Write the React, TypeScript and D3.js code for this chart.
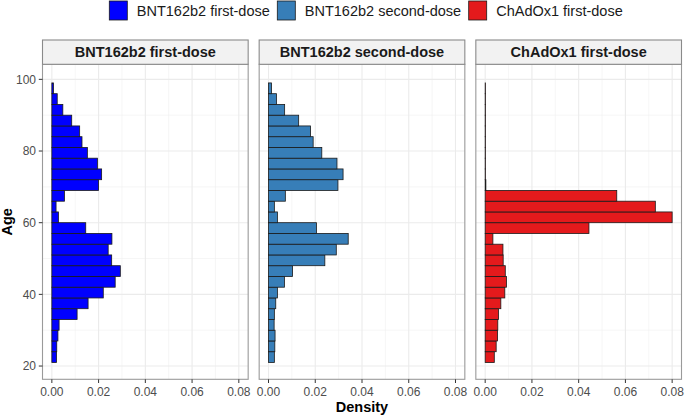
import React, { useEffect, useRef } from 'react';
import * as d3 from 'd3';

// Age bins (lower edge, 3-year width)
const binStarts = [21, 24, 27, 30, 33, 36, 39, 42, 45, 48, 51, 54, 57, 60, 63, 66, 69, 72, 75, 78, 81, 84, 87, 90, 93, 96];
const binWidth = 3;

const bntFirst = [
  0.002, 0.0021, 0.0026, 0.0031, 0.0108, 0.0155, 0.022, 0.0271, 0.0293, 0.0256, 0.0241, 0.0257, 0.0145,
  0.0028, 0.0018, 0.0054, 0.02, 0.0213, 0.0195, 0.0152, 0.0129, 0.0119, 0.0085, 0.0047, 0.0023, 0.0007,
];
const bntSecond = [
  0.0025, 0.0027, 0.0028, 0.0024, 0.0025, 0.0031, 0.0038, 0.0068, 0.0103, 0.0241, 0.029, 0.0341, 0.0205,
  0.0038, 0.0025, 0.0072, 0.0297, 0.0319, 0.0293, 0.0228, 0.0191, 0.018, 0.0129, 0.0069, 0.0034, 0.0013,
];
const chadFirst = [
  0.0039, 0.0047, 0.0053, 0.0054, 0.0057, 0.0067, 0.0084, 0.0091, 0.0086, 0.0077, 0.0076, 0.0033, 0.0444,
  0.08, 0.0728, 0.0563, 0.0003, 0.0001, 0.0001, 0.0001, 0.0001, 0.0001, 0.0001, 0.0001, 0.0001, 0.0001,
];

const groups = ['BNT162b2 first-dose', 'BNT162b2 second-dose', 'ChAdOx1 first-dose'];
const colors = ['#0000FF', '#377EB8', '#E41A1C'];
const seriesValues = [bntFirst, bntSecond, chadFirst];

const xTicks = [0, 0.02, 0.04, 0.06, 0.08];
const xMinor = [0.01, 0.03, 0.05, 0.07];
const yTicks = [20, 40, 60, 80, 100];
const yMinor = [30, 50, 70, 90];

const W = 685;
const H = 415;
const FONT = '"Liberation Sans", Arial, sans-serif';

export default function App() {
  const svgRef = useRef<SVGSVGElement>(null);

  useEffect(() => {
    if (!svgRef.current) return;
    const svg = d3.select(svgRef.current);
    svg.selectAll('*').remove();

    const panelLeft = 42.5;
    const panelRight = 681.5;
    const gap = 11;
    const panelW = (panelRight - panelLeft - 2 * gap) / 3;
    const stripTop = 40;
    const plotTop = 64.3;
    const plotBottom = 379.3;

    const y = d3.scaleLinear().domain([16.3, 104.2]).range([plotBottom, plotTop]);

    groups.forEach((name, gi) => {
      const x0 = panelLeft + gi * (panelW + gap);
      const x = d3.scaleLinear().domain([-0.004, 0.084]).range([x0, x0 + panelW]);
      const g = svg.append('g');

      // panel background
      g.append('rect')
        .attr('x', x0)
        .attr('y', plotTop)
        .attr('width', panelW)
        .attr('height', plotBottom - plotTop)
        .attr('fill', 'white');

      // minor grid
      xMinor.forEach((v) =>
        g.append('line')
          .attr('x1', x(v)).attr('x2', x(v))
          .attr('y1', plotTop).attr('y2', plotBottom)
          .attr('stroke', '#F0F0F0').attr('stroke-width', 0.6)
      );
      yMinor.forEach((v) =>
        g.append('line')
          .attr('x1', x0).attr('x2', x0 + panelW)
          .attr('y1', y(v)).attr('y2', y(v))
          .attr('stroke', '#F0F0F0').attr('stroke-width', 0.6)
      );
      // major grid
      xTicks.forEach((v) =>
        g.append('line')
          .attr('x1', x(v)).attr('x2', x(v))
          .attr('y1', plotTop).attr('y2', plotBottom)
          .attr('stroke', '#EBEBEB').attr('stroke-width', 1.1)
      );
      yTicks.forEach((v) =>
        g.append('line')
          .attr('x1', x0).attr('x2', x0 + panelW)
          .attr('y1', y(v)).attr('y2', y(v))
          .attr('stroke', '#EBEBEB').attr('stroke-width', 1.1)
      );

      // bars
      g.selectAll('.bar')
        .data(binStarts.map((b, i) => ({ b, v: seriesValues[gi][i] })))
        .enter()
        .append('rect')
        .attr('x', x(0))
        .attr('y', (d) => y(d.b + binWidth))
        .attr('width', (d) => Math.max(0, x(d.v) - x(0)))
        .attr('height', (d) => y(d.b) - y(d.b + binWidth))
        .attr('fill', colors[gi])
        .attr('stroke', '#1A1A1A')
        .attr('stroke-width', 0.8);

      // panel border
      g.append('rect')
        .attr('x', x0)
        .attr('y', plotTop)
        .attr('width', panelW)
        .attr('height', plotBottom - plotTop)
        .attr('fill', 'none')
        .attr('stroke', '#9A9A9A')
        .attr('stroke-width', 1.1);

      // strip
      g.append('rect')
        .attr('x', x0)
        .attr('y', stripTop)
        .attr('width', panelW)
        .attr('height', plotTop - stripTop)
        .attr('fill', '#F2F2F2')
        .attr('stroke', '#8A8A8A')
        .attr('stroke-width', 1.1);
      g.append('text')
        .attr('x', x0 + panelW / 2)
        .attr('y', (stripTop + plotTop) / 2 + 5)
        .attr('text-anchor', 'middle')
        .attr('font-family', FONT)
        .attr('font-size', 14.5)
        .attr('font-weight', 'bold')
        .attr('fill', '#1A1A1A')
        .text(name);

      // x axis ticks and labels
      xTicks.forEach((v) => {
        g.append('line')
          .attr('x1', x(v)).attr('x2', x(v))
          .attr('y1', plotBottom).attr('y2', plotBottom + 3.7)
          .attr('stroke', '#333333').attr('stroke-width', 1);
        g.append('text')
          .attr('x', x(v))
          .attr('y', 395.5)
          .attr('text-anchor', 'middle')
          .attr('font-family', FONT)
          .attr('font-size', 12)
          .attr('fill', '#4D4D4D')
          .text(d3.format('.2f')(v));
      });

      // y axis on first panel
      if (gi === 0) {
        yTicks.forEach((v) => {
          g.append('line')
            .attr('x1', x0 - 3.7).attr('x2', x0)
            .attr('y1', y(v)).attr('y2', y(v))
            .attr('stroke', '#333333').attr('stroke-width', 1);
          g.append('text')
            .attr('x', x0 - 6.5)
            .attr('y', y(v) + 4.2)
            .attr('text-anchor', 'end')
            .attr('font-family', FONT)
            .attr('font-size', 12)
            .attr('fill', '#4D4D4D')
            .text(v);
        });
      }
    });

    // axis titles
    svg.append('text')
      .attr('x', (panelLeft + panelRight) / 2)
      .attr('y', 411.5)
      .attr('text-anchor', 'middle')
      .attr('font-family', FONT)
      .attr('font-size', 14.5)
      .attr('font-weight', 'bold')
      .attr('fill', '#000')
      .text('Density');
    svg.append('text')
      .attr('transform', `translate(12,${(plotTop + plotBottom) / 2}) rotate(-90)`)
      .attr('text-anchor', 'middle')
      .attr('font-family', FONT)
      .attr('font-size', 14.5)
      .attr('font-weight', 'bold')
      .attr('fill', '#000')
      .text('Age');

    // legend
    const legendX = [109.3, 277.3, 468.7];
    groups.forEach((name, gi) => {
      svg.append('rect')
        .attr('x', legendX[gi])
        .attr('y', 1)
        .attr('width', 18)
        .attr('height', 19)
        .attr('fill', colors[gi])
        .attr('stroke', '#1A1A1A')
        .attr('stroke-width', 0.8);
      svg.append('text')
        .attr('x', legendX[gi] + 27.5)
        .attr('y', 15.5)
        .attr('font-family', FONT)
        .attr('font-size', 14.5)
        .attr('fill', '#1A1A1A')
        .text(name);
    });
  }, []);

  return (
    <svg
      ref={svgRef}
      width={W}
      height={H}
      style={{ position: 'absolute', left: 0, top: 0, background: 'white' }}
    />
  );
}
